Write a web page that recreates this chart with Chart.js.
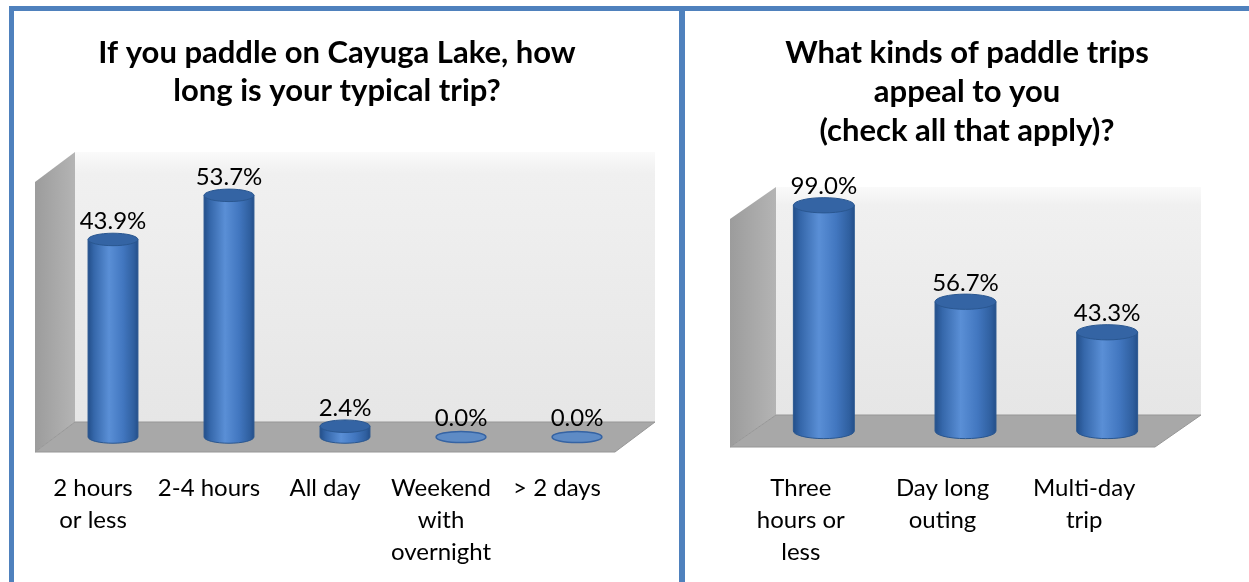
<!DOCTYPE html>
<html>
<head>
<meta charset="utf-8">
<script src="https://cdn.jsdelivr.net/npm/chart.js@4.4.0/dist/chart.umd.min.js"></script>
<style>
html, body { margin: 0; padding: 0; background: #fff; }
#page { position: relative; width: 1249px; height: 582px; overflow: hidden; background: #fff; }
.panel { position: absolute; box-sizing: border-box; border: 5px solid #4f81bd; }
#leftPanel { left: 9px; top: 6px; width: 676px; height: 640px; }
#rightPanel { left: 679px; top: 6px; width: 640px; height: 640px; }
.box { position: absolute; }
#leftBox { left: 14px; top: 11px; width: 666px; height: 571px; }
#rightBox { left: 685px; top: 11px; width: 564px; height: 571px; }
</style>
</head>
<body>
<div id="page">
  <div class="panel" id="leftPanel"></div>
  <div class="panel" id="rightPanel"></div>
  <div class="box" id="leftBox"><canvas id="leftChart"></canvas></div>
  <div class="box" id="rightBox"><canvas id="rightChart"></canvas></div>
</div>
<script>
// chart data
const tripTitle = ['If you paddle on Cayuga Lake, how', 'long is your typical trip?'];
const tripLabels = [['2 hours', 'or less'], '2-4 hours', 'All day', ['Weekend', 'with', 'overnight'], '> 2 days'];
const tripValues = [43.9, 53.7, 2.4, 0.0, 0.0];
const tripMax = 60;

const kindTitle = ['What kinds of paddle trips', 'appeal to you', '(check all that apply)?'];
const kindLabels = [['Three', 'hours or', 'less'], ['Day long', 'outing'], ['Multi-day', 'trip']];
const kindValues = [99.0, 56.7, 43.3];
const kindMax = 100;

const FONT = 'Lato, "Open Sans", sans-serif';
const BAR_PCT = 0.43;

// horizontal shading that makes a flat bar look like a cylinder
function cylinderGradient(ctx, x, half) {
  const g = ctx.createLinearGradient(x - half, 0, x + half, 0);
  g.addColorStop(0, '#234f8a');
  g.addColorStop(0.12, '#3567aa');
  g.addColorStop(0.42, '#5a8fd6');
  g.addColorStop(0.7, '#4277c0');
  g.addColorStop(0.92, '#2f5f9f');
  g.addColorStop(1, '#244f8a');
  return g;
}

function barColor(c) {
  const chart = c.chart;
  const xs = chart.scales.x;
  if (!xs || !chart.chartArea) return '#4477bb';
  const x = xs.getPixelForValue(c.dataIndex);
  const half = xs.width / chart.data.labels.length * BAR_PCT / 2;
  return cylinderGradient(chart.ctx, x, half);
}

function poly(ctx, pts, fill, stroke) {
  ctx.beginPath();
  pts.forEach((p, i) => i ? ctx.lineTo(p[0], p[1]) : ctx.moveTo(p[0], p[1]));
  ctx.closePath();
  ctx.fillStyle = fill;
  ctx.fill();
  if (stroke) { ctx.strokeStyle = stroke; ctx.lineWidth = 1; ctx.stroke(); }
}

// walls, floor, cylinder caps and value labels
const scene3d = {
  id: 'scene3d',
  beforeDatasetsDraw(chart, args, opts) {
    const { ctx, chartArea: a } = chart;
    const dx = opts.depthX, dy = opts.depthY;
    ctx.save();
    const wall = ctx.createLinearGradient(0, a.top - dy, 0, a.bottom - dy);
    wall.addColorStop(0, '#fafafa');
    wall.addColorStop(0.08, '#f0f0f0');
    wall.addColorStop(1, '#e6e6e6');
    ctx.fillStyle = wall;
    ctx.fillRect(a.left + dx, a.top - dy, a.right - a.left, a.bottom - a.top);

    const side = ctx.createLinearGradient(a.left, 0, a.left + dx, 0);
    side.addColorStop(0, '#9c9c9c');
    side.addColorStop(1, '#b4b4b4');
    poly(ctx, [[a.left, a.top], [a.left + dx, a.top - dy], [a.left + dx, a.bottom - dy], [a.left, a.bottom]], side);

    poly(ctx, [[a.left, a.bottom], [a.right, a.bottom], [a.right + dx, a.bottom - dy], [a.left + dx, a.bottom - dy]],
      '#a8a8a8', '#969696');
    ctx.restore();

    ctx.save();
    ctx.translate(dx / 2, -dy / 2);
  },
  afterDatasetsDraw(chart, args, opts) {
    const { ctx } = chart;
    const meta = chart.getDatasetMeta(0);
    const values = chart.data.datasets[0].data;
    meta.data.forEach((bar, i) => {
      const half = bar.width / 2;
      const ry = half * opts.capRatio;
      if (bar.base - bar.y > 0.5) {
        ctx.beginPath();
        ctx.ellipse(bar.x, bar.base, half, ry, 0, 0, Math.PI);
        ctx.fillStyle = cylinderGradient(ctx, bar.x, half);
        ctx.fill();
        ctx.strokeStyle = '#2a5790';
        ctx.lineWidth = 1;
        ctx.beginPath();
        ctx.moveTo(bar.x - half, bar.y);
        ctx.lineTo(bar.x - half, bar.base);
        ctx.ellipse(bar.x, bar.base, half, ry, 0, Math.PI, 0, true);
        ctx.lineTo(bar.x + half, bar.y);
        ctx.stroke();
        ctx.beginPath();
        ctx.ellipse(bar.x, bar.y, half, ry, 0, 0, Math.PI * 2);
        ctx.fillStyle = '#3464a4';
        ctx.fill();
        ctx.stroke();
      } else {
        ctx.beginPath();
        ctx.ellipse(bar.x, bar.base, half, ry * 0.9, 0, 0, Math.PI * 2);
        ctx.fillStyle = 'rgba(85,135,200,0.9)';
        ctx.fill();
        ctx.strokeStyle = '#3563a3';
        ctx.lineWidth = 1.5;
        ctx.stroke();
      }
      ctx.fillStyle = '#000';
      ctx.font = opts.labelFont;
      ctx.textAlign = 'center';
      ctx.textBaseline = 'middle';
      ctx.fillText(values[i].toFixed(1) + '%', bar.x, bar.y - ry - opts.labelGap);
    });
    ctx.restore();
  }
};

function makeChart(id, title, labels, values, max, geo) {
  return new Chart(document.getElementById(id), {
    type: 'bar',
    data: {
      labels: labels,
      datasets: [{
        data: values,
        backgroundColor: barColor,
        borderWidth: 0,
        barPercentage: BAR_PCT,
        categoryPercentage: 1,
        clip: false
      }]
    },
    options: {
      responsive: true,
      maintainAspectRatio: false,
      animation: false,
      events: [],
      layout: { padding: { left: 0, right: geo.padRight, top: 0, bottom: 0 } },
      plugins: {
        legend: { display: false },
        tooltip: { enabled: false },
        title: {
          display: true,
          text: title,
          color: '#000',
          font: { family: FONT, size: geo.titleSize, weight: 'bold', lineHeight: geo.titleLine },
          padding: { top: geo.titleTop, bottom: geo.titleBottom }
        },
        scene3d: {
          depthX: geo.dx, depthY: geo.dy, capRatio: geo.cap,
          labelFont: '24px ' + FONT, labelGap: geo.labelGap
        }
      },
      scales: {
        x: {
          grid: { display: false, drawTicks: false },
          border: { display: false },
          ticks: {
            color: '#000', padding: geo.tickPad, maxRotation: 0, autoSkip: false,
            font: { family: FONT, size: 24, lineHeight: 32 / 24 }
          },
          afterFit: (s) => { s.height = geo.axisH; }
        },
        y: {
          min: 0, max: max,
          ticks: { display: false },
          grid: { display: false },
          border: { display: false },
          afterFit: (s) => { s.width = geo.leftGap; }
        },
        y2: {
          position: 'right',
          ticks: { display: false },
          grid: { display: false },
          border: { display: false },
          afterFit: (s) => { s.width = geo.rightGap; }
        }
      }
    },
    plugins: [scene3d]
  });
}

makeChart('leftChart', tripTitle, tripLabels, tripValues, tripMax, {
  titleSize: 31, titleLine: 38 / 31, titleTop: 23, titleBottom: 72, padRight: 20,
  dx: 40, dy: 30, cap: 0.25, labelGap: 12, tickPad: 20, axisH: 130, leftGap: 21, rightGap: 45
});

makeChart('rightChart', kindTitle, kindLabels, kindValues, kindMax, {
  titleSize: 31, titleLine: 39 / 31, titleTop: 22, titleBottom: 69, padRight: 0,
  dx: 46, dy: 32, cap: 0.25, labelGap: 11, tickPad: 25, axisH: 135, leftGap: 45, rightGap: 94
});
</script>
</body>
</html>
